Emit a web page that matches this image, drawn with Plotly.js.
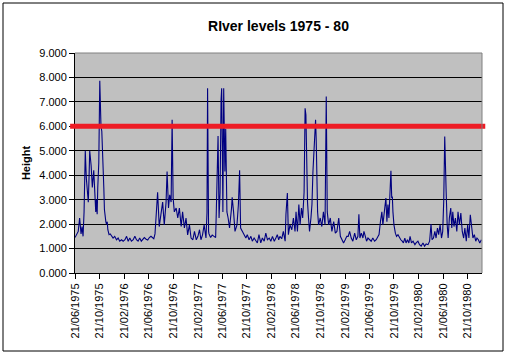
<!DOCTYPE html>
<html>
<head>
<meta charset="utf-8">
<script src="https://cdn.plot.ly/plotly-3.0.1.min.js"></script>
<style>
  html, body { margin: 0; padding: 0; background: #ffffff; }
  #chart { width: 509px; height: 356px; }
</style>
</head>
<body>
<div id="chart"></div>
<script>
// ---- Data ----
const chartTitle = "RIver levels 1975 - 80";
const yTitle = "Height";
const threshold = 6;

const dates1975 = ["1975-06-21","1975-06-24","1975-06-30","1975-07-07","1975-07-14","1975-07-21","1975-07-26","1975-07-31","1975-08-05","1975-08-08","1975-08-11","1975-08-16","1975-08-21","1975-08-26","1975-08-30","1975-09-02","1975-09-09","1975-09-15","1975-09-22","1975-09-27","1975-10-02","1975-10-05","1975-10-09","1975-10-12","1975-10-17","1975-10-22","1975-10-25","1975-10-28","1975-11-01","1975-11-04","1975-11-07","1975-11-11","1975-11-14","1975-11-17","1975-11-21","1975-11-24","1975-11-28","1975-12-01","1975-12-07","1975-12-13","1975-12-19","1975-12-27"];
const levels1975 = [1.45,1.5,1.6,1.7,2.25,1.6,1.9,1.5,2.5,4.0,5.0,3.9,3.2,2.9,4.0,5.0,4.4,3.5,4.2,3.0,2.5,3.0,2.4,3.5,4.5,7.86,6.2,6.0,5.8,5.25,4.2,3.5,2.6,2.3,2.1,2.0,2.1,1.77,1.57,1.6,1.5,1.43];

const dates1976 = ["1976-01-04","1976-01-13","1976-01-21","1976-01-29","1976-02-07","1976-02-15","1976-02-24","1976-03-03","1976-03-11","1976-03-19","1976-03-27","1976-04-05","1976-04-13","1976-04-21","1976-04-29","1976-05-07","1976-05-15","1976-05-30","1976-06-08","1976-06-16","1976-06-24","1976-07-02","1976-07-16","1976-07-22","1976-07-27","1976-08-04","1976-08-12","1976-08-21","1976-08-29","1976-09-06","1976-09-15","1976-09-20","1976-09-27","1976-10-03","1976-10-10","1976-10-15","1976-10-20","1976-10-26","1976-11-04","1976-11-12","1976-11-20","1976-11-29","1976-12-06","1976-12-15","1976-12-23","1976-12-31"];
const levels1976 = [1.5,1.36,1.43,1.3,1.36,1.3,1.36,1.5,1.3,1.43,1.3,1.36,1.5,1.36,1.3,1.43,1.3,1.45,1.38,1.35,1.45,1.5,1.4,1.6,2.25,3.3,1.9,2.4,2.9,1.97,2.9,4.15,2.66,3.2,2.9,6.27,3.07,2.5,2.66,2.25,2.66,1.9,2.5,1.84,2.25,1.56];

const dates1977 = ["1977-01-09","1977-01-17","1977-01-26","1977-02-03","1977-02-12","1977-02-20","1977-02-28","1977-03-07","1977-03-15","1977-03-23","1977-04-01","1977-04-06","1977-04-09","1977-04-14","1977-04-16","1977-04-24","1977-05-02","1977-05-11","1977-05-19","1977-05-22","1977-05-27","1977-05-31","1977-06-05","1977-06-10","1977-06-15","1977-06-18","1977-06-21","1977-06-24","1977-06-28","1977-07-01","1977-07-04","1977-07-08","1977-07-11","1977-07-14","1977-07-20","1977-07-27","1977-08-06","1977-08-09","1977-08-16","1977-08-23","1977-09-02","1977-09-09","1977-09-15","1977-09-20","1977-09-29","1977-10-07","1977-10-16","1977-10-23","1977-11-01","1977-11-10","1977-11-17","1977-11-26","1977-12-04","1977-12-12","1977-12-20","1977-12-29"];
const levels1977 = [1.97,1.43,1.36,1.7,1.36,1.5,1.77,1.36,1.56,1.97,1.43,2.45,7.56,1.7,1.6,1.45,1.55,1.5,1.45,2.4,3.9,5.6,2.25,3.3,7.1,7.56,5.2,2.5,7.56,5.9,4.15,5.9,3.9,2.5,2.25,1.84,2.66,3.1,2.5,1.7,1.97,2.8,4.2,1.84,1.7,1.57,1.43,1.57,1.36,1.5,1.3,1.43,1.3,1.23,1.57,1.23];

const dates1978 = ["1978-01-06","1978-01-15","1978-01-23","1978-01-31","1978-02-09","1978-02-17","1978-02-25","1978-03-06","1978-03-14","1978-03-21","1978-03-28","1978-04-03","1978-04-12","1978-04-20","1978-04-29","1978-05-03","1978-05-10","1978-05-15","1978-05-23","1978-06-01","1978-06-09","1978-06-17","1978-06-22","1978-06-29","1978-07-06","1978-07-12","1978-07-19","1978-07-25","1978-08-01","1978-08-06","1978-08-10","1978-08-13","1978-08-18","1978-08-23","1978-08-28","1978-09-04","1978-09-09","1978-09-14","1978-09-19","1978-09-24","1978-09-27","1978-09-30","1978-10-03","1978-10-07","1978-10-12","1978-10-20","1978-10-28","1978-11-05","1978-11-13","1978-11-19","1978-11-24","1978-12-01","1978-12-09","1978-12-17","1978-12-26"];
const levels1978 = [1.43,1.3,1.63,1.36,1.43,1.3,1.5,1.3,1.43,1.57,1.36,1.5,1.4,1.7,1.3,2.4,3.27,1.57,1.97,1.77,2.25,1.7,2.5,1.7,2.8,1.97,2.66,2.25,3.3,6.74,6.47,4.15,2.9,2.25,1.7,2.25,2.8,4.15,5.25,6.06,6.27,5.5,3.9,2.5,1.97,2.25,1.9,2.5,1.97,7.22,2.5,1.97,2.25,1.7,2.1];

const dates1979 = ["1979-01-03","1979-01-11","1979-01-20","1979-01-28","1979-02-05","1979-02-13","1979-02-21","1979-03-01","1979-03-08","1979-03-15","1979-03-23","1979-03-31","1979-04-09","1979-04-17","1979-04-25","1979-04-30","1979-05-05","1979-05-12","1979-05-20","1979-05-25","1979-06-01","1979-06-07","1979-06-14","1979-06-22","1979-06-30","1979-07-08","1979-07-17","1979-07-25","1979-08-02","1979-08-08","1979-08-15","1979-08-22","1979-08-27","1979-09-01","1979-09-04","1979-09-11","1979-09-16","1979-09-21","1979-09-26","1979-10-01","1979-10-06","1979-10-10","1979-10-13","1979-10-16","1979-10-21","1979-10-28","1979-11-03","1979-11-10","1979-11-17","1979-11-24","1979-12-01","1979-12-07","1979-12-14","1979-12-20","1979-12-27"];
const levels1979 = [1.63,1.7,2.25,1.5,1.36,1.23,1.36,1.5,1.5,1.7,1.43,1.3,1.63,1.36,1.5,2.4,1.43,1.63,1.43,1.7,1.5,1.3,1.43,1.36,1.3,1.43,1.3,1.36,1.5,1.57,2.1,2.5,1.97,2.38,2.66,3.07,2.1,2.8,2.25,3.2,4.18,3.07,3.13,2.5,1.97,1.63,1.5,1.57,1.43,1.36,1.3,1.23,1.43,1.23,1.36];

const dates1980 = ["1980-01-03","1980-01-09","1980-01-16","1980-01-24","1980-02-02","1980-02-08","1980-02-17","1980-02-25","1980-03-04","1980-03-13","1980-03-21","1980-03-29","1980-04-07","1980-04-15","1980-04-22","1980-04-27","1980-05-04","1980-05-11","1980-05-17","1980-05-24","1980-05-30","1980-06-06","1980-06-13","1980-06-19","1980-06-24","1980-06-29","1980-07-03","1980-07-06","1980-07-11","1980-07-16","1980-07-22","1980-07-29","1980-08-03","1980-08-08","1980-08-14","1980-08-21","1980-08-28","1980-09-03","1980-09-10","1980-09-17","1980-09-24","1980-10-01","1980-10-07","1980-10-14","1980-10-21","1980-10-27","1980-11-03","1980-11-10","1980-11-16","1980-11-23","1980-11-30","1980-12-06","1980-12-13","1980-12-20","1980-12-28"];
const levels1980 = [1.23,1.5,1.23,1.3,1.16,1.23,1.3,1.16,1.1,1.23,1.1,1.19,1.16,1.3,2.0,1.36,1.43,1.7,1.43,1.84,1.57,1.97,1.43,1.7,2.93,5.58,3.6,3.34,2.0,1.43,2.25,2.66,1.84,2.5,1.9,2.25,1.7,2.5,1.97,2.45,1.7,1.43,1.84,1.3,1.97,1.43,2.38,1.7,1.43,1.57,1.3,1.43,1.36,1.23,1.36];

const tickDates = ["1975-06-21","1975-10-21","1976-02-21","1976-06-21","1976-10-21","1977-02-21","1977-06-21","1977-10-21","1978-02-21","1978-06-21","1978-10-21","1979-02-21","1979-06-21","1979-10-21","1980-02-21","1980-06-21","1980-10-21"];
const yTicks = [0,1,2,3,4,5,6,7,8,9];

// ---- Build ----
const allDates = [].concat(dates1975, dates1976, dates1977, dates1978, dates1979, dates1980);
const allLevels = [].concat(levels1975, levels1976, levels1977, levels1978, levels1979, levels1980);

const FONT = "Liberation Sans, Arial, sans-serif";

const trace = {
  x: allDates, y: allLevels, type: "scatter", mode: "lines",
  line: { color: "#000080", width: 1.1 },
  hoverinfo: "skip"
};

const layout = {
  width: 509, height: 356,
  margin: { l: 75, r: 27, t: 53, b: 83 },
  paper_bgcolor: "#ffffff",
  plot_bgcolor: "#c0c0c0",
  showlegend: false,
  font: { family: FONT, size: 11, color: "#000000" },
  title: {
    text: "<b>" + chartTitle + "</b>",
    font: { family: FONT, size: 14, color: "#000000" },
    x: 0.5, xref: "paper", xanchor: "center",
    y: 1 - 26/356, yref: "container", yanchor: "middle"
  },
  xaxis: {
    type: "date",
    range: ["1975-06-21", "1980-12-31"],
    tickmode: "array", tickvals: tickDates, tickformat: "%d/%m/%Y",
    tickangle: -90,
    ticks: "outside", ticklen: 5, tickcolor: "#000000", tickwidth: 1,
    showline: true, linecolor: "#000000", linewidth: 1,
    showgrid: false, zeroline: false,
    tickfont: { family: FONT, size: 11, color: "#000000" }
  },
  yaxis: {
    range: [0, 9],
    tickmode: "array", tickvals: yTicks, tickformat: ".3f",
    ticks: "outside", ticklen: 5, tickcolor: "#000000", tickwidth: 1,
    showline: true, linecolor: "#000000", linewidth: 1,
    showgrid: true, gridcolor: "#000000", gridwidth: 1,
    zeroline: false,
    tickfont: { family: FONT, size: 11, color: "#000000" },
    title: {
      text: "<b>" + yTitle + "</b>",
      font: { family: FONT, size: 11, color: "#000000" },
      standoff: 6
    }
  },
  shapes: [
    // threshold line
    { type: "line", xref: "paper", yref: "y", x0: -0.012, x1: 1.008, y0: threshold, y1: threshold,
      line: { color: "#ee1c25", width: 5 }, layer: "above" },
    // plot area border top/right (grey)
    { type: "line", xref: "paper", yref: "paper", x0: 0, x1: 1, y0: 1, y1: 1,
      line: { color: "#808080", width: 1 }, layer: "above" },
    { type: "line", xref: "paper", yref: "paper", x0: 1, x1: 1, y0: 0, y1: 1,
      line: { color: "#808080", width: 1 }, layer: "above" },
    // chart outer border
    { type: "rect", xref: "paper", yref: "paper",
      x0: (3 - 75) / 407, x1: (503 - 75) / 407, y0: (273 - 351) / 220, y1: (273 - 3) / 220,
      line: { color: "#000000", width: 1 }, fillcolor: "rgba(0,0,0,0)", layer: "above" }
  ]
};

Plotly.newPlot("chart", [trace], layout, { staticPlot: true, displayModeBar: false });
</script>
</body>
</html>
